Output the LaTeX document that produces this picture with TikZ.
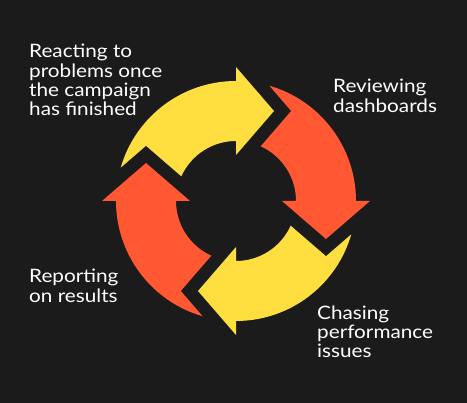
\documentclass[tikz,border=0pt]{standalone}
\usepackage{fontspec}
\setmainfont{Lato}
\newfontfamily\lblfont{Lato}[FakeStretch=1.12]
\definecolor{bg}{HTML}{1B1B1B}
\definecolor{ayellow}{HTML}{FFDF40}
\definecolor{aorange}{HTML}{FF5833}
\tikzset{
  pics/cyclearrow/.style={code={
    \fill[#1] (0,120) -- (0,134) -- (38,90) -- (0,46) -- (0,60)
      arc[start angle=90,end angle=155.71,radius=60]
      -- (-90,55.2) -- (-115.27,33.36)
      arc[start angle=163.86,end angle=90,radius=120] -- cycle;
  }},
  lbl/.style={anchor=base west, inner sep=0pt, text=white,
    font=\lblfont\fontsize{18.5}{18.4}\selectfont}
}
\begin{document}
\begin{tikzpicture}[x=1pt,y=1pt]
\fill[bg] (0,0) rectangle (467,403);
\useasboundingbox (0,0) rectangle (467,403);
\begin{scope}[shift={(236,202)}, rotate=3.5]
  \pic (top) at (0,0) {cyclearrow=ayellow};
  \pic[rotate=-90] (right) at (0,0) {cyclearrow=aorange};
  \pic[rotate=180] (bottom) at (0,0) {cyclearrow=ayellow};
  \pic[rotate=90] (left) at (0,0) {cyclearrow=aorange};
\end{scope}
\node[lbl] (react) at (29,345) {\begin{tabular}[t]{@{}l@{}}Reacting to\\problems once\\the campaign\\has finished\end{tabular}};
\node[lbl] (review) at (333,310) {\begin{tabular}[t]{@{}l@{}}Reviewing\\dashboards\end{tabular}};
\node[lbl] (chase) at (317,83) {\begin{tabular}[t]{@{}l@{}}Chasing\\performance\\issues\end{tabular}};
\node[lbl] (report) at (29,120) {\begin{tabular}[t]{@{}l@{}}Reporting\\on results\end{tabular}};
\end{tikzpicture}
\end{document}
